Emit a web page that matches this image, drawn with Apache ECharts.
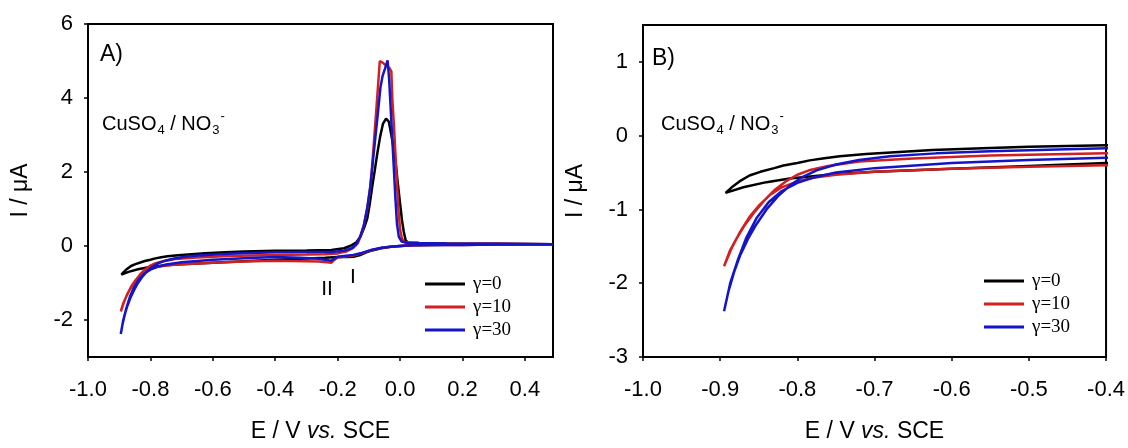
<!DOCTYPE html>
<html><head><meta charset="utf-8">
<script src="https://cdn.jsdelivr.net/npm/echarts@6.0.0/dist/echarts.min.js"></script>
<style>html,body{margin:0;padding:0;background:#fff}#c{width:1128px;height:448px}</style>
</head><body><div id="c"></div>
<script>
// ---- data (E / V vs SCE, I / µA), each series is one closed CV loop ----
const seriesNames = ['γ=0', 'γ=10', 'γ=30'];
const seriesColors = ['#000000', '#d21f1f', '#1414c8'];

const cvGamma0 = [
  [0.49,0.05],[0.40,0.05],[0.30,0.04],[0.20,0.04],[0.10,0.03],[0.04,0.02],[0.00,0.00],[-0.03,-0.02],[-0.06,-0.06],[-0.09,-0.12],[-0.11,-0.18],[-0.13,-0.25],[-0.15,-0.29],[-0.17,-0.30],[-0.20,-0.30],[-0.24,-0.32],[-0.30,-0.34],[-0.40,-0.37],[-0.50,-0.41],[-0.60,-0.45],[-0.70,-0.49],[-0.75,-0.52],[-0.78,-0.55],[-0.81,-0.58],[-0.84,-0.63],[-0.87,-0.70],[-0.893,-0.775],
  [-0.885,-0.70],[-0.875,-0.62],[-0.862,-0.54],[-0.848,-0.49],[-0.83,-0.44],[-0.818,-0.405],[-0.80,-0.37],[-0.784,-0.335],[-0.765,-0.305],[-0.745,-0.28],[-0.711,-0.25],[-0.668,-0.22],[-0.625,-0.195],[-0.56,-0.17],[-0.50,-0.15],[-0.40,-0.13],[-0.30,-0.12],[-0.22,-0.11],[-0.18,-0.06],[-0.16,0.0],[-0.14,0.1],[-0.127,0.25],[-0.115,0.5],[-0.105,0.75],[-0.097,1.15],[-0.089,1.62],[-0.081,2.05],[-0.073,2.5],[-0.064,2.95],[-0.055,3.3],[-0.045,3.44],[-0.036,3.36],[-0.028,3.0],[-0.02,2.6],[-0.013,2.15],[-0.006,1.6],[0.0,1.15],[0.006,0.7],[0.012,0.38],[0.018,0.15],[0.025,0.09],[0.06,0.08],[0.15,0.07],[0.30,0.06],[0.49,0.05]
];
const cvGamma10 = [
  [0.49,0.04],[0.40,0.04],[0.30,0.04],[0.20,0.03],[0.10,0.03],[0.04,0.02],[0.00,0.00],[-0.03,-0.02],[-0.06,-0.05],[-0.09,-0.11],[-0.12,-0.19],[-0.15,-0.26],[-0.18,-0.29],[-0.20,-0.31],[-0.21,-0.37],[-0.22,-0.45],[-0.235,-0.44],[-0.26,-0.42],[-0.30,-0.41],[-0.40,-0.40],[-0.50,-0.42],[-0.60,-0.45],[-0.70,-0.49],[-0.75,-0.53],[-0.78,-0.57],[-0.80,-0.62],[-0.82,-0.70],[-0.835,-0.80],[-0.85,-0.95],[-0.862,-1.10],[-0.874,-1.30],[-0.885,-1.52],[-0.895,-1.77],
  [-0.887,-1.55],[-0.878,-1.38],[-0.868,-1.21],[-0.856,-1.04],[-0.843,-0.88],[-0.83,-0.74],[-0.815,-0.62],[-0.80,-0.53],[-0.785,-0.47],[-0.76,-0.41],[-0.72,-0.35],[-0.65,-0.31],[-0.55,-0.27],[-0.40,-0.24],[-0.30,-0.23],[-0.24,-0.22],[-0.20,-0.20],[-0.17,-0.14],[-0.15,-0.05],[-0.135,0.08],[-0.125,0.3],[-0.115,0.6],[-0.105,1.0],[-0.097,1.5],[-0.09,2.1],[-0.083,2.9],[-0.076,3.7],[-0.07,4.4],[-0.065,5.0],[-0.055,4.95],[-0.045,4.88],[-0.035,4.82],[-0.028,4.72],[-0.025,4.0],[-0.02,3.3],[-0.015,2.5],[-0.01,1.7],[-0.005,0.95],[0.0,0.45],[0.006,0.2],[0.015,0.1],[0.06,0.08],[0.15,0.07],[0.30,0.06],[0.49,0.05]
];
const cvGamma30 = [
  [0.49,0.04],[0.40,0.04],[0.30,0.04],[0.20,0.03],[0.10,0.03],[0.04,0.02],[0.00,0.00],[-0.03,-0.02],[-0.06,-0.05],[-0.09,-0.10],[-0.12,-0.18],[-0.15,-0.24],[-0.18,-0.27],[-0.20,-0.29],[-0.21,-0.34],[-0.222,-0.40],[-0.24,-0.37],[-0.27,-0.34],[-0.32,-0.32],[-0.40,-0.30],[-0.50,-0.33],[-0.60,-0.37],[-0.70,-0.44],[-0.75,-0.50],[-0.78,-0.57],[-0.80,-0.64],[-0.82,-0.75],[-0.837,-0.90],[-0.853,-1.12],[-0.866,-1.38],[-0.877,-1.68],[-0.887,-2.0],[-0.895,-2.38],
  [-0.889,-2.1],[-0.882,-1.85],[-0.874,-1.62],[-0.864,-1.40],[-0.853,-1.20],[-0.84,-1.0],[-0.825,-0.82],[-0.81,-0.68],[-0.795,-0.57],[-0.775,-0.47],[-0.75,-0.39],[-0.72,-0.33],[-0.68,-0.28],[-0.62,-0.24],[-0.55,-0.21],[-0.40,-0.17],[-0.30,-0.16],[-0.22,-0.16],[-0.18,-0.13],[-0.155,-0.06],[-0.14,0.05],[-0.128,0.25],[-0.116,0.56],[-0.105,1.05],[-0.095,1.62],[-0.087,2.3],[-0.079,2.95],[-0.071,3.6],[-0.063,4.28],[-0.056,4.6],[-0.048,4.8],[-0.04,5.02],[-0.035,4.5],[-0.03,3.7],[-0.025,2.9],[-0.02,2.1],[-0.015,1.3],[-0.01,0.6],[-0.004,0.25],[0.005,0.12],[0.02,0.09],[0.06,0.08],[0.15,0.07],[0.30,0.06],[0.49,0.05]
];

const xTicksA = [-1.0,-0.8,-0.6,-0.4,-0.2,0.0,0.2,0.4];
const yTicksA = [-2,0,2,4,6];
const xTicksB = [-1.0,-0.9,-0.8,-0.7,-0.6,-0.5,-0.4];
const yTicksB = [-3,-2,-1,0,1];

// ---- chart ----
const FONT = "'Liberation Sans', Arial, sans-serif";
const SERIF = "'Liberation Serif', 'Times New Roman', serif";
const allData = [cvGamma0, cvGamma10, cvGamma30];

function xAxis(gi, min, max, ticks) {
  return {
    type: 'value', gridIndex: gi, min: min, max: max,
    name: '{n|E / V }{i|vs.}{n| SCE}', nameLocation: 'middle', nameGap: 63,
    nameTextStyle: { rich: { n: { fontFamily: FONT, fontSize: 23, color: '#000' }, i: { fontFamily: FONT, fontSize: 23, fontStyle: 'italic', color: '#000' } } },
    axisLine: { show: true, onZero: false, lineStyle: { color: '#000', width: 2 } },
    axisTick: { show: true, inside: false, length: 4, customValues: ticks, lineStyle: { color: '#000', width: 1.5 } },
    axisLabel: { customValues: ticks, margin: 22, fontFamily: FONT, fontSize: 22, color: '#000', formatter: v => v.toFixed(1) },
    splitLine: { show: false }
  };
}
function yAxis(gi, min, max, ticks) {
  return {
    type: 'value', gridIndex: gi, min: min, max: max,
    name: 'I / μA', nameLocation: 'middle', nameGap: 56,
    nameTextStyle: { fontFamily: FONT, fontSize: 23, color: '#000' },
    axisLine: { show: true, onZero: false, lineStyle: { color: '#000', width: 2 } },
    axisTick: { show: true, inside: false, length: 4, customValues: ticks, lineStyle: { color: '#000', width: 1.5 } },
    axisLabel: { customValues: ticks, margin: 15, fontFamily: FONT, fontSize: 22, color: '#000', formatter: v => String(v) },
    splitLine: { show: false }
  };
}

const series = [];
[0, 1].forEach(gi => {
  allData.forEach((d, k) => {
    series.push({
      type: 'line', name: seriesNames[k], xAxisIndex: gi, yAxisIndex: gi,
      data: d, showSymbol: false, symbol: 'none', clip: true, smooth: false,
      lineStyle: { color: seriesColors[k], width: 2.5 }, itemStyle: { color: seriesColors[k] },
      z: 2 + k, animation: false
    });
  });
});

const legendBase = {
  data: seriesNames, orient: 'vertical', icon: 'rect', itemWidth: 40, itemHeight: 3, itemGap: 3,
  textStyle: { fontFamily: SERIF, fontSize: 19, color: '#000', lineHeight: 20, padding: [0, 0, 0, 3] },
  selectedMode: false
};

const rich = {
  a: { fontFamily: FONT, fontSize: 20, color: '#000' },
  s: { fontFamily: FONT, fontSize: 13, color: '#000', padding: [12, 0, 0, 1] },
  p: { fontFamily: FONT, fontSize: 13, color: '#000', padding: [0, 0, 16, 1] }
};
const chemText = '{a|CuSO}{s|4}{a| / NO}{s|3}{p|-}';
function txt(x, y, t, size, align) {
  return { type: 'text', x: x, y: y, z: 100, style: { text: t, fontFamily: FONT, fontSize: size, fill: '#000', align: align || 'left', verticalAlign: 'middle' } };
}

const option = {
  animation: false,
  backgroundColor: '#fff',
  grid: [
    { left: 88, top: 24, width: 465, height: 340, show: true, borderColor: '#000', borderWidth: 2, backgroundColor: 'transparent' },
    { left: 643, top: 25, width: 464, height: 341, show: true, borderColor: '#000', borderWidth: 2, backgroundColor: 'transparent' }
  ],
  xAxis: [xAxis(0, -1.0, 0.49, xTicksA), xAxis(1, -1.0, -0.4, xTicksB)],
  yAxis: [yAxis(0, -3, 6, yTicksA), yAxis(1, -3, 1.5, yTicksB)],
  legend: [
    Object.assign({}, legendBase, { left: 420, top: 269 }),
    Object.assign({}, legendBase, { left: 979, top: 266 })
  ],
  series: series,
  graphic: [
    txt(100, 55, 'A)', 23),
    { type: 'text', x: 102, y: 124, z: 100, style: { text: chemText, rich: rich, verticalAlign: 'middle' } },
    txt(327, 289, 'II', 21, 'center'),
    txt(353, 277, 'I', 21, 'center'),
    txt(652, 59, 'B)', 23),
    { type: 'text', x: 661, y: 124, z: 100, style: { text: chemText, rich: rich, verticalAlign: 'middle' } }
  ]
};

const chart = echarts.init(document.getElementById('c'), null, { renderer: 'canvas' });
chart.setOption(option);
</script>
</body></html>
